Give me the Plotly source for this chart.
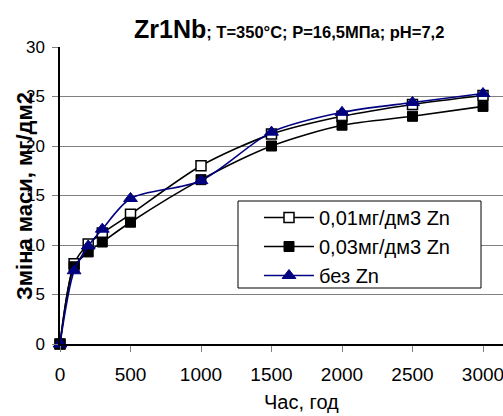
import plotly.graph_objects as go

# Exposure time, hours
hours = [0, 100, 200, 300, 500, 1000, 1500, 2000, 2500, 3000]

# Mass gain, mg/dm2
zn_001 = [0, 8.1, 10.1, 11.2, 13.1, 18.0, 21.2, 23.0, 24.2, 25.1]
zn_003 = [0, 7.8, 9.3, 10.3, 12.3, 16.6, 20.0, 22.1, 23.0, 24.0]
no_zn = [0, 7.4, 9.9, 11.6, 14.7, 16.5, 21.4, 23.4, 24.4, 25.3]

series_names = ["0,01мг/дм3 Zn", "0,03мг/дм3 Zn", "без Zn"]

x_ticks = [0, 500, 1000, 1500, 2000, 2500, 3000]
y_ticks = [0, 5, 10, 15, 20, 25, 30]

FONT = "Liberation Sans, Arial, sans-serif"

# plot area in pixels
L, R, T, B = 60, 503, 47, 344
PW, PH = R - L, B - T


def px(xp):
    return (xp - L) / PW


def py(yp):
    return (B - yp) / PH


fig = go.Figure()

fig.add_trace(go.Scatter(
    x=hours, y=zn_001, name=series_names[0], mode="lines+markers",
    line=dict(color="black", width=1.6, shape="spline", smoothing=0.8),
    marker=dict(symbol="square", size=10, color="white",
                line=dict(color="black", width=1.5)),
    cliponaxis=False, legendgroup="a",
))
fig.add_trace(go.Scatter(
    x=hours, y=zn_003, name=series_names[1], mode="lines+markers",
    line=dict(color="black", width=1.6, shape="spline", smoothing=0.8),
    marker=dict(symbol="square", size=10, color="black",
                line=dict(color="black", width=1)),
    cliponaxis=False, legendgroup="b",
))
fig.add_trace(go.Scatter(
    x=hours, y=no_zn, name=series_names[2], mode="lines+markers",
    line=dict(color="#000080", width=1.6, shape="spline", smoothing=0.8),
    marker=dict(symbol="triangle-up", size=12, color="#000080",
                line=dict(color="#000080", width=1)),
    cliponaxis=False, legendgroup="c",
))

fig.update_layout(
    width=503, height=416,
    margin=dict(l=L, r=503 - R, t=T, b=416 - B),
    paper_bgcolor="white", plot_bgcolor="white",
    font=dict(family=FONT, color="black"),
    showlegend=True,
    legend=dict(
        x=px(259), y=py(198),
        xanchor="left", yanchor="top",
        bgcolor="rgba(0,0,0,0)", borderwidth=0,
        font=dict(size=20, family=FONT),
        traceorder="grouped", tracegroupgap=0,
        itemwidth=50,
    ),
    shapes=[
        # legend frame
        dict(type="rect", xref="paper", yref="paper",
             x0=px(238), x1=px(481), y0=py(201), y1=py(288),
             fillcolor="white", line=dict(color="black", width=1),
             layer="above"),
    ],
    xaxis=dict(
        range=[0, 3000 * PW / 423],
        tickvals=x_ticks, ticktext=[str(v) for v in x_ticks],
        showgrid=False, zeroline=False,
        showline=True, linecolor="black", linewidth=1.5,
        ticks="outside", ticklen=6, tickcolor="#808080", tickwidth=1,
        ticklabelstandoff=6, ticklabeloverflow="allow",
        tickfont=dict(size=19, family=FONT, color="black"),
    ),
    yaxis=dict(
        range=[0, 30],
        tickvals=y_ticks, ticktext=[str(v) for v in y_ticks],
        showgrid=True, gridcolor="#808080", gridwidth=1,
        zeroline=False,
        showline=True, linecolor="black", linewidth=1.5,
        ticks="outside", ticklen=6, tickcolor="#808080", tickwidth=1,
        ticklabelstandoff=4,
        tickfont=dict(size=17, family=FONT, color="black"),
    ),
    annotations=[
        dict(
            text="<b><span style='font-size:25px'>Zr1Nb</span>; T=350°C; P=16,5МПа; pH=7,2</b>",
            xref="paper", yref="paper",
            x=px(289), y=py(29),
            xanchor="center", yanchor="middle", showarrow=False,
            font=dict(size=16.5, family=FONT, color="black"),
        ),
        dict(
            text="<b>Зміна маси, мг/дм2</b>",
            xref="paper", yref="paper",
            x=px(24), y=py(196),
            xanchor="center", yanchor="middle", showarrow=False,
            textangle=-90,
            font=dict(size=22, family=FONT, color="black"),
        ),
        dict(
            text="Час, год",
            xref="paper", yref="paper",
            x=px(301), y=py(402),
            xanchor="center", yanchor="middle", showarrow=False,
            font=dict(size=20, family=FONT, color="black"),
        ),
    ],
)

fig.write_html("out.html")
